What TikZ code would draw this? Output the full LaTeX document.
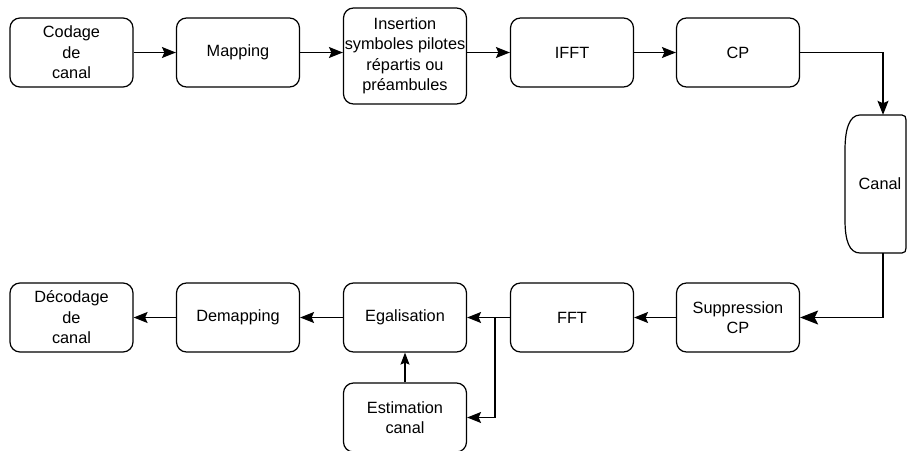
\documentclass[tikz,border=0pt]{standalone}
\usepackage{fontspec}
\setmainfont{Liberation Sans}
\usetikzlibrary{arrows.meta}
\begin{document}
\begin{tikzpicture}[x=1pt,y=-1pt,
  blk/.style={draw, line width=1.2pt, rounded corners=10pt, minimum width=123pt, minimum height=69pt, align=center, inner sep=0pt, font=\fontsize{16.3}{20.5}\selectfont},
  conn/.style={line width=1.2pt, -{Stealth[length=14pt,width=11pt,inset=2.5pt]}},
  bigconn/.style={line width=1.2pt, -{Stealth[length=18pt,width=14pt,inset=3.5pt]}}]
\useasboundingbox (0,0) rectangle (907,450);
% top row
\node[blk] (cod) at (71.5,52.5) {Codage\\de\\canal};
\node[blk] (map) at (238,52.5) {Mapping};
\node[blk, minimum height=96pt] (ins) at (405,56) {Insertion\\symboles pilotes\\répartis ou\\préambules};
\node[blk] (ifft) at (572,52.5) {IFFT};
\node[blk] (cp) at (738,52.5) {CP};
% canal
\node[minimum width=76pt, minimum height=138pt, inner sep=0pt, font=\fontsize{16.3}{20.5}\selectfont] (canal) at (883,184) {\hspace*{-6pt}Canal};
\draw[line width=1.2pt] (860,115) -- (902,115) .. controls (905,115) and (906,117) .. (906,120) -- (906,248) .. controls (906,251) and (905,253) .. (902,253) -- (860,253)
  .. controls (849,253) and (845,240) .. (845,220) -- (845,150) .. controls (845,130) and (849,115) .. (860,115) -- cycle;
% bottom row
\node[blk] (dec) at (71.5,317.5) {Décodage\\de\\canal};
\node[blk] (dem) at (238,317.5) {Demapping};
\node[blk] (egal) at (405,317.5) {Egalisation};
\node[blk] (fft) at (572,317.5) {FFT};
\node[blk] (sup) at (738,317.5) {Suppression\\CP};
\node[blk] (est) at (405,417.5) {Estimation\\canal};
\coordinate (j) at (495,317.5);
% connectors
\draw[conn] (cod) -- (map);
\draw[conn] (map) -- (ins.west |- map.east);
\draw[conn] (ins.east |- ifft.west) -- (ifft);
\draw[conn] (ifft) -- (cp);
\draw[conn] (cp.east) -| (canal.north);
\draw[bigconn] (canal.south) |- (sup.east);
\draw[conn] (sup) -- (fft);
\draw[conn] (fft) -- (egal);
\draw[conn] (egal) -- (dem);
\draw[conn] (dem) -- (dec);
\draw[conn] (j) |- (est.east);
\draw[line width=1.2pt, -{Stealth[length=12pt,width=9pt,inset=2pt]}] (est) -- (egal);
\end{tikzpicture}
\end{document}
